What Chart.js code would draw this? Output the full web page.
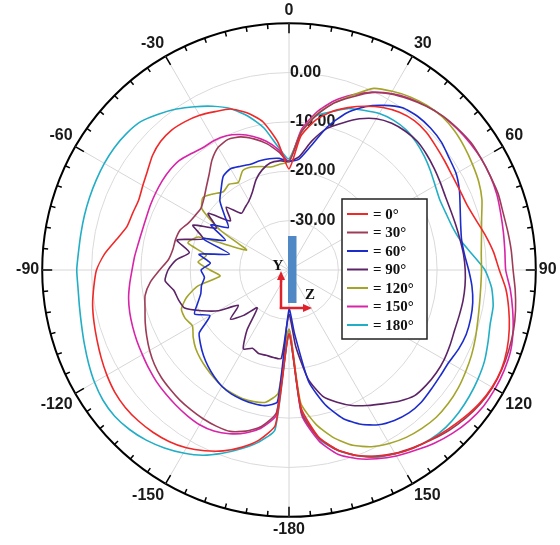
<!DOCTYPE html>
<html>
<head>
<meta charset="utf-8">
<script src="https://cdn.jsdelivr.net/npm/chart.js@4.4.1/dist/chart.umd.min.js"></script>
<style>
html,body{margin:0;padding:0;overflow:hidden;background:#fff;width:560px;height:545px}
#wrap{position:absolute;left:0;top:0;width:574px;height:545px}
</style>
</head>
<body>
<div id="wrap"><canvas id="c" width="574" height="545"></canvas></div>
<script>
// Angle categories (deg, clockwise from top; values above 180 are shown as negative)
const angleLabels = [0,5,10,15,20,25,30,35,40,45,50,55,60,65,70,75,80,85,90,95,100,105,110,115,120,125,130,135,140,145,150,155,160,165,170,175,
                     180,185,190,195,200,205,210,215,220,225,230,235,240,245,250,255,260,265,270,275,280,285,290,295,300,305,310,315,320,325,330,335,340,345,350,355];
// Radial tick labels (dB)
const radialTicks = [-30, -20, -10, 0];
// Series names
const seriesNames = ['0°', '30°', '60°', '90°', '120°', '150°', '180°'];

// Gain values (dB), order: 0,5,...,180, then -175,...,-5
const phi0 = [-19.5,-12.8,-9.2,-6.8,-5.0,-3.4,-2.0,-1.0,-0.5,-0.6,-1.1,-1.5,-1.8,-1.8,-1.6,-0.8,0.4,1.6,2.6,4.1,5.2,6.2,7.0,7.5,7.5,7.1,6.4,5.6,4.8,4.0,3.0,1.7,0.0,-2.3,-5.7,-12.0,-27.0,
  -8.5,-5.0,-2.8,-1.0,0.4,1.6,2.4,2.9,3.2,3.3,3.1,2.6,2.0,1.4,0.9,0.4,-0.3,-1.0,-2.5,-4.5,-6.0,-6.3,-6.4,-5.8,-5.0,-3.9,-3.2,-3.0,-3.3,-3.8,-4.6,-5.3,-7.0,-9.5,-14.0];
const phi30 = [-18,-12,-8.2,-5,-2.7,-0.3,1.2,2.3,3.3,4.1,4.6,5.0,5.0,5.0,5.1,4.9,5.0,5.2,5.4,6.0,6.6,7.1,7.4,7.6,7.6,7.3,6.7,5.9,4.9,3.9,2.9,1.6,0.0,-2.3,-5.5,-11,-27,
  -11,-7.8,-6.2,-5.2,-5.1,-5.2,-5.4,-5.6,-5.9,-6.2,-6.7,-7.4,-8.2,-9.0,-9.8,-10.4,-11.8,-13.8,-15.5,-16.1,-16.2,-16.5,-17.5,-18,-18.2,-17.5,-16.3,-14.8,-12.8,-11.3,-10.8,-11.3,-12.5,-14,-16];
const phi60 = [-18,-17.5,-14.5,-10,-6.2,-3.5,-1.5,0.1,0.6,0.6,0.3,-0.4,-0.9,-1.9,-3.1,-4.0,-4.5,-4.3,-3.6,-2.8,-2.2,-1.9,-1.8,-2.1,-2.6,-2.6,-2.4,-2.1,-2.2,-2.8,-3.8,-5.5,-8,-11.8,-17,-27,-32,
  -13.2,-12.1,-12.0,-12.1,-12.3,-12.8,-13.6,-14.5,-15.5,-16.6,-17.8,-21.5,-18.9,-20.3,-21.5,-22,-22.8,-22.2,-24,-21.5,-27.5,-21.4,-25.8,-21.7,-25,-23,-20.2,-18.6,-16.8,-16.3,-16.8,-17.2,-17.1,-17.1,-17.3];
const phi90 = [-18,-17,-13.5,-10.3,-8.3,-6.2,-4.6,-3.7,-3.3,-3.2,-3.6,-4.1,-4.6,-5.0,-5.1,-5.0,-4.8,-4.5,-4.3,-4.2,-4.2,-4.3,-4.3,-4.0,-3.7,-3.6,-3.7,-4.0,-5.3,-6.9,-8.3,-9.7,-11.5,-13.5,-17.5,-24.5,-31,
  -22,-22,-22.1,-22,-22.5,-21.5,-25.2,-30,-27,-24.5,-27.5,-23.5,-20.5,-17.5,-16.8,-16.3,-14.8,-15.5,-17,-19.5,-16.5,-21.5,-18.5,-23,-20,-24.5,-22,-25,-24.5,-23.8,-22.5,-20.5,-19,-18,-17.8];
const phi120 = [-18,-12,-8,-5,-2.3,0.6,1.8,2.8,3.5,3.9,3.8,3.4,2.9,2.4,1.6,0.4,-0.4,-0.9,-1.0,-1.0,-0.8,-0.4,0.2,0.8,1.3,1.8,2.1,2.2,1.9,1.4,0.6,-0.5,-2.2,-4.8,-8.2,-13,-28,
  -15,-12.8,-12.4,-12.3,-12.5,-12.8,-13.4,-14.0,-14.6,-15.3,-16.3,-17.4,-16.8,-16.8,-18.5,-21.2,-26,-24,-21.5,-23,-18.8,-20.5,-30.5,-24,-18.5,-17.2,-18.2,-19.3,-18.8,-19.5,-17.8,-17.8,-18.3,-18.8,-18.5];
const phi150 = [-18,-11.5,-7.5,-4.5,-2.2,-0.3,1.3,2.5,3.4,4.0,4.5,4.8,5.0,5.0,4.8,4.4,4.1,3.9,3.9,5.0,6.0,7.0,7.8,8.1,8.2,8.1,7.6,6.8,5.8,4.6,3.5,2.2,0.7,-1.3,-4.8,-10.5,-28,
  -10.5,-7.5,-5.8,-4.7,-4.0,-3.8,-4.0,-4.3,-4.6,-4.9,-5.3,-5.7,-6.0,-6.3,-6.6,-7.0,-7.6,-8.2,-8.6,-9.0,-9.2,-9.2,-9.0,-8.8,-8.6,-8.5,-8.6,-9.2,-9.7,-9.7,-10,-10.8,-12,-13.5,-15.5];
const phi180 = [-17.5,-12.0,-8.3,-6.8,-5.2,-4.3,-3.4,-3.0,-3.0,-3.5,-4.2,-5.0,-5.8,-6.3,-6.2,-5.8,-4.8,-2.8,-0.3,1.2,2.0,2.2,2.9,3.7,4.2,4.6,4.9,5.0,4.7,4.0,3.0,1.9,0.0,-2.2,-5.3,-11.5,-27,
  -7.5,-4.6,-2.5,-0.5,1.4,2.8,4.0,5.0,5.7,6.1,6.0,5.5,4.8,4.1,3.5,3.1,2.9,3.0,2.8,2.8,2.9,3.0,3.1,3.2,3.2,3.0,2.5,1.2,-0.2,-1.8,-3.4,-5.2,-7.7,-10.8,-15];

const seriesData = [phi0, phi30, phi60, phi90, phi120, phi150, phi180];
const seriesColors = ['#f02828', '#9c3c58', '#1c2ccc', '#5c2466', '#a4a42a', '#d824a8', '#22aec6'];

const decor = {
  id: 'decor',
  beforeDatasetsDraw(chart) {
    const s = chart.scales.r, ctx = chart.ctx;
    ctx.save();
    ctx.font = 'bold 16px "Liberation Sans", Arial, sans-serif';
    ctx.fillStyle = '#1a1a1a';
    ctx.textAlign = 'left';
    ctx.textBaseline = 'alphabetic';
    radialTicks.forEach(v => {
      const d = s.getDistanceFromCenterForValue(v);
      ctx.fillText(v.toFixed(2), s.xCenter + 1, s.yCenter - d + 4);
    });
    ctx.restore();
  },
  afterDraw(chart) {
    const s = chart.scales.r, ctx = chart.ctx;
    const R = s.drawingArea;
    const labels = chart.data.labels;
    ctx.save();
    ctx.strokeStyle = '#000';
    ctx.lineWidth = 1.5;
    for (let i = 0; i < labels.length; i++) {
      const major = labels[i] % 30 === 0;
      const a = s.getPointPosition(i, R);
      const b = s.getPointPosition(i, R - (major ? 10 : 5));
      ctx.beginPath(); ctx.moveTo(a.x, a.y); ctx.lineTo(b.x, b.y); ctx.stroke();
    }
    const xc = s.xCenter, yc = s.yCenter;
    // antenna inset
    ctx.fillStyle = '#4f88c4';
    ctx.fillRect(xc - 1, yc - 34, 8.5, 67);
    ctx.strokeStyle = '#e0202a'; ctx.fillStyle = '#e0202a'; ctx.lineWidth = 2.5;
    ctx.beginPath(); ctx.moveTo(xc - 8, yc + 39); ctx.lineTo(xc - 8, yc + 9); ctx.stroke();
    ctx.beginPath(); ctx.moveTo(xc - 9.2, yc + 38); ctx.lineTo(xc + 15, yc + 38); ctx.stroke();
    ctx.beginPath(); ctx.moveTo(xc - 8, yc + 1); ctx.lineTo(xc - 12, yc + 10); ctx.lineTo(xc - 4, yc + 10); ctx.closePath(); ctx.fill();
    ctx.beginPath(); ctx.moveTo(xc + 23, yc + 38); ctx.lineTo(xc + 14, yc + 34); ctx.lineTo(xc + 14, yc + 42); ctx.closePath(); ctx.fill();
    ctx.fillStyle = '#111';
    ctx.font = 'bold 15px "Liberation Serif", serif';
    ctx.textAlign = 'center'; ctx.textBaseline = 'middle';
    ctx.fillText('Y', xc - 11, yc - 4);
    ctx.fillText('Z', xc + 21, yc + 25);
    // legend
    const lx = xc + 53, ly = yc - 71, lw = 85, lh = 140;
    ctx.fillStyle = '#fff'; ctx.fillRect(lx, ly, lw, lh);
    ctx.strokeStyle = '#222'; ctx.lineWidth = 1.5; ctx.strokeRect(lx, ly, lw, lh);
    ctx.font = 'bold 15px "Liberation Serif", serif';
    ctx.textAlign = 'left'; ctx.textBaseline = 'middle';
    chart.data.datasets.forEach((ds, k) => {
      const y = ly + 15 + k * 18.5;
      ctx.strokeStyle = ds.borderColor; ctx.lineWidth = 2;
      ctx.beginPath(); ctx.moveTo(lx + 5, y); ctx.lineTo(lx + 26, y); ctx.stroke();
      ctx.fillStyle = '#111';
      ctx.fillText('= ' + ds.label, lx + 31, y + 1);
    });
    ctx.restore();
  }
};

new Chart(document.getElementById('c'), {
  type: 'radar',
  data: {
    labels: angleLabels,
    datasets: seriesNames.map((n, k) => ({
      label: n,
      data: seriesData[k],
      borderColor: seriesColors[k],
      backgroundColor: 'rgba(0,0,0,0)',
      borderWidth: 1.6,
      pointRadius: 0,
      pointHoverRadius: 0,
      fill: false,
      tension: 0.2
    }))
  },
  options: {
    responsive: false,
    animation: false,
    layout: { padding: { top: 2, bottom: 5, left: 0, right: 0 } },
    plugins: { legend: { display: false }, tooltip: { enabled: false } },
    elements: { line: { borderJoinStyle: 'round' } },
    scales: {
      r: {
        min: -40, max: 10, startAngle: 0,
        ticks: { display: false, stepSize: 10 },
        grid: {
          circular: true,
          color: c => (c.tick && c.tick.value === 10) ? '#000' : '#dadada',
          lineWidth: c => (c.tick && c.tick.value === 10) ? 2 : 1
        },
        angleLines: {
          display: true,
          color: c => (angleLabels[c.index] % 30 === 0) ? '#d6d6d6' : 'rgba(0,0,0,0)',
          lineWidth: c => (angleLabels[c.index] % 30 === 0) ? 1 : 0
        },
        pointLabels: {
          padding: 3,
          color: '#1a1a1a',
          font: { family: '"Liberation Sans", Arial, sans-serif', size: 16, weight: 'bold' },
          callback: (lab) => {
            const a = Number(lab);
            if (a % 30 !== 0) return '';
            if (a === 180) return '-180';
            return String(a > 180 ? a - 360 : a);
          }
        }
      }
    }
  },
  plugins: [decor]
});
</script>
</body>
</html>
